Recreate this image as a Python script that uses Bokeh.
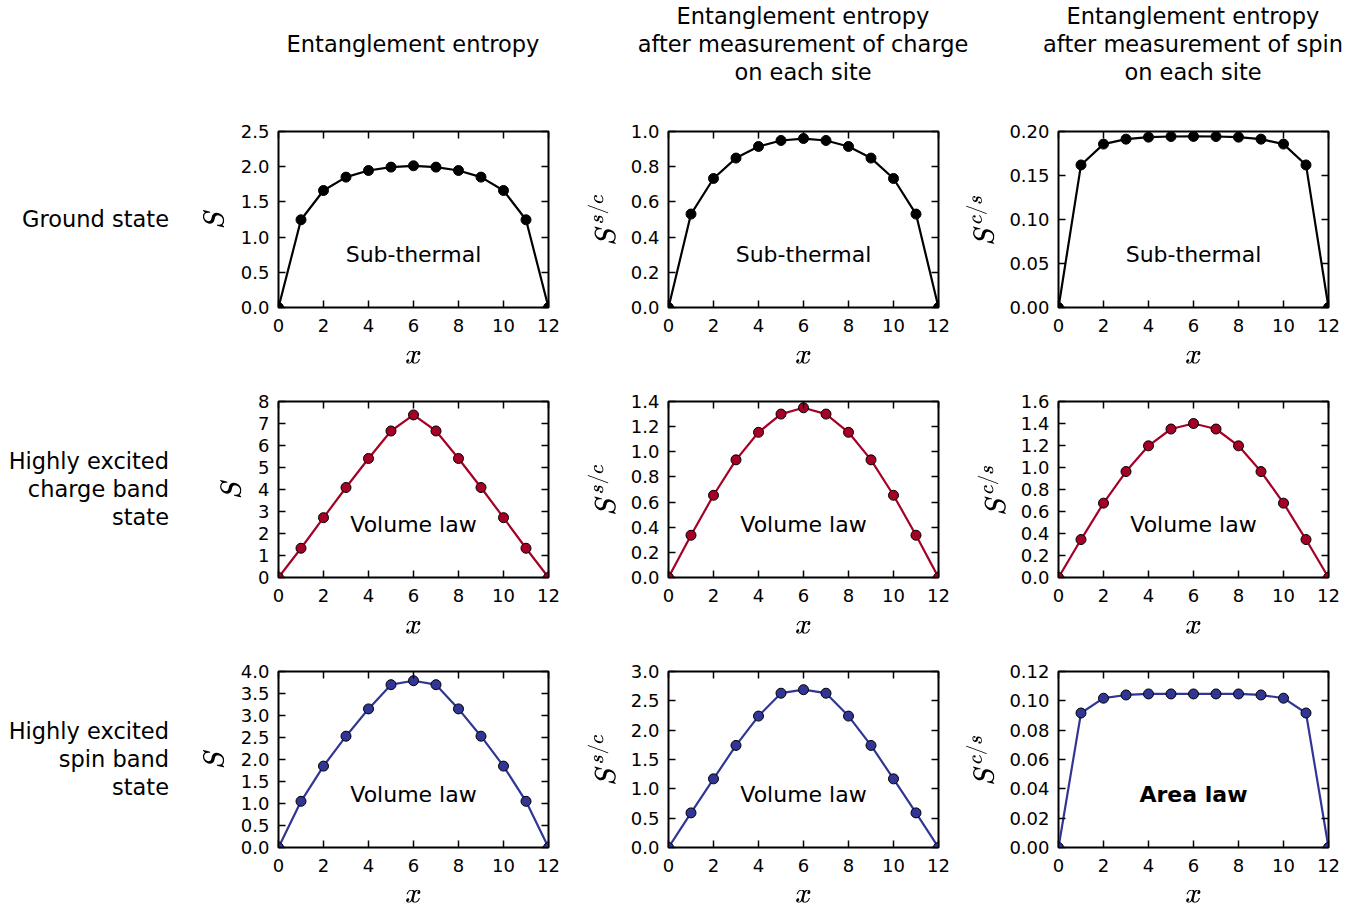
from bokeh.plotting import figure
from bokeh.models import Range1d, FixedTicker, PrintfTickFormatter, CustomJSTickFormatter, LinearAxis, Label, Div
from bokeh.layouts import row, column
from bokeh.embed import file_html
from bokeh.resources import INLINE

# ---------------- data ----------------
x_sites = [0, 1, 2, 3, 4, 5, 6, 7, 8, 9, 10, 11, 12]

col_titles = ["Entanglement entropy",
              "Entanglement entropy<br>after measurement of charge<br>on each site",
              "Entanglement entropy<br>after measurement of spin<br>on each site"]
row_titles = ["Ground state",
              "Highly excited<br>charge band<br>state",
              "Highly excited<br>spin band<br>state"]
row_lines = [1, 3, 3]
y_labels = ["$$S$$", "$$S^{s/c}$$", "$$S^{c/s}$$"]
row_colors = ["#000000", "#a50026", "#313695"]
annotations = [["Sub-thermal", "Sub-thermal", "Sub-thermal"],
               ["Volume law", "Volume law", "Volume law"],
               ["Volume law", "Volume law", "Area law"]]

gs_S = [0, 1.246, 1.662, 1.852, 1.946, 1.994, 2.013, 1.994, 1.946, 1.852, 1.662, 1.246, 0]
gs_Ssc = [0, 0.531, 0.733, 0.849, 0.915, 0.949, 0.960, 0.949, 0.915, 0.849, 0.733, 0.531, 0]
gs_Scs = [0, 0.162, 0.1857, 0.1913, 0.1936, 0.1943, 0.1944, 0.1943, 0.1936, 0.1913, 0.1857, 0.162, 0]
cb_S = [0, 1.33, 2.72, 4.09, 5.41, 6.66, 7.39, 6.66, 5.41, 4.09, 2.72, 1.33, 0]
cb_Ssc = [0, 0.336, 0.654, 0.936, 1.155, 1.30, 1.35, 1.30, 1.155, 0.936, 0.654, 0.336, 0]
cb_Scs = [0, 0.345, 0.676, 0.963, 1.197, 1.35, 1.40, 1.35, 1.197, 0.963, 0.676, 0.345, 0]
sb_S = [0, 1.05, 1.85, 2.53, 3.15, 3.70, 3.79, 3.70, 3.15, 2.53, 1.85, 1.05, 0]
sb_Ssc = [0, 0.59, 1.17, 1.74, 2.24, 2.63, 2.69, 2.63, 2.24, 1.74, 1.17, 0.59, 0]
sb_Scs = [0, 0.0917, 0.1018, 0.1040, 0.1047, 0.1047, 0.1047, 0.1047, 0.1047, 0.1040, 0.1018, 0.0917, 0]

series = [[gs_S, gs_Ssc, gs_Scs],
          [cb_S, cb_Ssc, cb_Scs],
          [sb_S, sb_Ssc, sb_Scs]]

x_ticks = [0, 2, 4, 6, 8, 10, 12]
y_ticks = [[[0, 0.5, 1.0, 1.5, 2.0, 2.5], [0, 0.2, 0.4, 0.6, 0.8, 1.0], [0, 0.05, 0.10, 0.15, 0.20]],
           [[0, 1, 2, 3, 4, 5, 6, 7, 8], [0, 0.2, 0.4, 0.6, 0.8, 1.0, 1.2, 1.4], [0, 0.2, 0.4, 0.6, 0.8, 1.0, 1.2, 1.4, 1.6]],
           [[0, 0.5, 1.0, 1.5, 2.0, 2.5, 3.0, 3.5, 4.0], [0, 0.5, 1.0, 1.5, 2.0, 2.5, 3.0], [0, 0.02, 0.04, 0.06, 0.08, 0.10, 0.12]]]
y_formats = [["%.1f", "%.1f", "%.2f"],
             ["%d", "%.1f", "%.1f"],
             ["%.1f", "%.1f", "%.2f"]]

# ---------------- layout constants ----------------
FONT = "DejaVu Sans"
LABEL_W = 176
B_LEFT, B_RIGHT, B_TOP = 102, 18, 20
FRAME_W, FRAME_H = 270, 176
TITLE_H = 111
BOTTOMS = [74, 74, 62]
XLAB_STANDOFF = [16, 16, 15]
YLAB_STANDOFF = [8, 12, 12]


def make_fig(r, c):
    ticks = y_ticks[r][c]
    p = figure(frame_width=FRAME_W, frame_height=FRAME_H,
               x_range=Range1d(0, 12), y_range=Range1d(ticks[0], ticks[-1]),
               output_backend="svg", toolbar_location=None,
               min_border_left=B_LEFT, min_border_right=B_RIGHT,
               min_border_top=B_TOP, min_border_bottom=BOTTOMS[r],
               background_fill_color="white", border_fill_color="white")
    p.xgrid.visible = False
    p.ygrid.visible = False
    p.outline_line_color = "black"
    p.outline_line_width = 2
    p.outline_line_alpha = 1

    for ax in (p.xaxis[0], p.yaxis[0]):
        ax.major_tick_in = 7
        ax.major_tick_out = 0
        ax.minor_tick_in = 0
        ax.minor_tick_out = 0
        ax.axis_line_color = None
        ax.major_tick_line_color = "black"
        ax.major_tick_line_width = 1.5
        ax.major_label_text_font = FONT
        ax.major_label_text_font_size = "18px"
        ax.major_label_text_color = "black"
        ax.axis_label_text_font_size = "24px"
        ax.axis_label_text_font_style = "normal"
        ax.axis_label_text_color = "black"

    p.xaxis[0].ticker = FixedTicker(ticks=x_ticks)
    p.xaxis[0].formatter = PrintfTickFormatter(format="%d")
    p.xaxis[0].major_label_standoff = 11
    p.xaxis[0].axis_label = "$$x$$"
    p.xaxis[0].axis_label_standoff = XLAB_STANDOFF[r]

    p.yaxis[0].ticker = FixedTicker(ticks=ticks)
    p.yaxis[0].formatter = PrintfTickFormatter(format=y_formats[r][c])
    p.yaxis[0].major_label_standoff = 9
    p.yaxis[0].axis_label = y_labels[c]
    p.yaxis[0].axis_label_standoff = YLAB_STANDOFF[c]

    # mirrored tick marks on top and right
    top = LinearAxis(ticker=FixedTicker(ticks=x_ticks),
                     formatter=CustomJSTickFormatter(code="return ''"),
                     major_tick_in=7, major_tick_out=0, minor_tick_in=0, minor_tick_out=0,
                     axis_line_color=None, major_tick_line_color="black", major_tick_line_width=1.5,
                     major_label_standoff=0, major_label_text_font_size="1px")
    right = LinearAxis(ticker=FixedTicker(ticks=ticks),
                       formatter=CustomJSTickFormatter(code="return ''"),
                       major_tick_in=7, major_tick_out=0, minor_tick_in=0, minor_tick_out=0,
                       axis_line_color=None, major_tick_line_color="black", major_tick_line_width=1.5,
                       major_label_standoff=0, major_label_text_font_size="1px")
    p.add_layout(top, "above")
    p.add_layout(right, "right")

    color = row_colors[r]
    ys = series[r][c]
    p.line(x_sites, ys, line_color=color, line_width=2.2)
    p.scatter(x_sites, ys, size=10, fill_color=color, line_color="black", line_width=1)

    ann = annotations[r][c]
    lab = Label(x=6, y=0.3 * ticks[-1], text=ann, text_align="center", text_baseline="middle",
                text_font=FONT, text_font_size="22px", text_color="black",
                text_font_style="bold" if ann == "Area law" else "normal")
    p.add_layout(lab)
    return p


# title row
title_divs = [Div(text="", width=LABEL_W, height=TITLE_H, margin=0)]
for c in range(3):
    nl = col_titles[c].count("<br>") + 1
    top_px = 44 - nl * 14
    html = (f'<div style="width:{390 - 84}px; margin-left:84px; margin-top:{top_px}px; '
            f'display:flex; justify-content:center;">'
            f'<div style="text-align:center; font-family:\'{FONT}\'; font-size:22.5px; line-height:28px; '
            f'color:black; white-space:nowrap; flex:none;">{col_titles[c]}</div></div>')
    title_divs.append(Div(text=html, width=390, height=TITLE_H, margin=0))

rows = [row(*title_divs, spacing=0)]
for r in range(3):
    figs = [make_fig(r, c) for c in range(3)]
    fh = B_TOP + FRAME_H + BOTTOMS[r]
    nl = row_lines[r]
    top_px = B_TOP + FRAME_H // 2 - nl * 14
    html = (f'<div style="width:{LABEL_W - 7}px; margin-top:{top_px}px; text-align:right; '
            f'font-family:\'{FONT}\'; font-size:22.5px; line-height:28px; color:black; '
            f'white-space:nowrap;">{row_titles[r]}</div>')
    lab_div = Div(text=html, width=LABEL_W, height=fh, margin=0)
    rows.append(row(lab_div, *figs, spacing=0))

layout = column(*rows, spacing=0)

open("out.html", "w").write(file_html(layout, INLINE))
